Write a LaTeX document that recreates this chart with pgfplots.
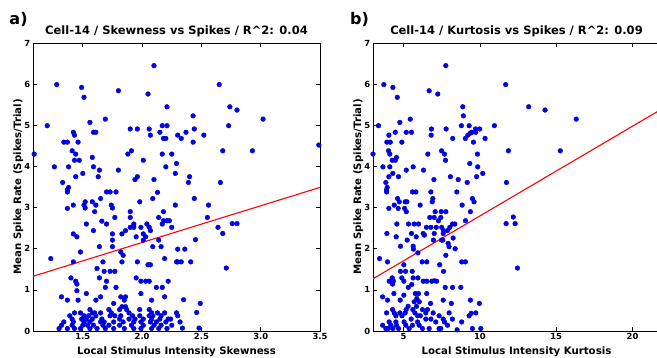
\documentclass[border=0pt]{standalone}
\usepackage{fontspec}
\setmainfont{DejaVu Sans}
\usepackage{pgfplots}
\pgfplotsset{compat=1.18}
\pgfplotsset{
  panel/.style={
    scale only axis, width=287bp, height=288bp,
    anchor=south west,
    ymin=0, ymax=7, ytick={0,1,2,3,4,5,6,7},
    tick align=inside, major tick length=4bp,
    axis line style={black, line width=0.8bp},
    every tick/.style={black, line width=0.7bp},
    /pgf/number format/assume math mode=true,
    ticklabel style={font=\fontsize{8.4bp}{10bp}\selectfont\bfseries},
    xticklabel style={anchor=base, yshift=-8.2bp},
    yticklabel style={anchor=east, inner sep=0pt, xshift=-2.5bp},
    title style={at={(axis description cs:0.5,1)}, anchor=base, yshift=2.4bp, font=\fontsize{11.5bp}{13bp}\selectfont\bfseries},
    xlabel style={at={(axis description cs:0.5,0)}, anchor=base, yshift=-23.5bp, font=\fontsize{10.2bp}{12bp}\selectfont\bfseries},
    ylabel style={at={(axis description cs:0,0.5)}, anchor=base, yshift=12bp, font=\fontsize{10.2bp}{12bp}\selectfont\bfseries},
    ylabel={Mean Spike Rate (Spikes/Trial)},
  },
  dots/.style={only marks, mark=*, mark size=2.4bp, mark options={fill=blue, draw=blue!60!black, line width=0.3bp}},
  fit/.style={red, line width=1.1bp, no marks},
}
\begin{document}
\begin{tikzpicture}
\begin{axis}[panel, at={(33bp,27bp)},
  xmin=1.08, xmax=3.5, xtick={1.5,2.0,2.5,3.0,3.5},
  xticklabel style={/pgf/number format/.cd, fixed, fixed zerofill, precision=1},
  title={Cell-14 / Skewness vs Spikes / R\textasciicircum 2: 0.04},
  xlabel={Local Stimulus Intensity Skewness}]
\addplot[dots] coordinates {
(2.10,6.45) (1.28,5.99) (1.49,5.92) (1.51,5.68) (1.80,5.84) (2.05,5.76) (2.21,5.45) (1.20,4.99)
(1.56,5.07) (1.69,5.15) (1.90,4.91) (1.96,4.91) (2.06,4.91) (2.17,4.99) (2.21,4.99) (2.15,4.83)
(2.07,4.76) (2.18,4.68) (2.20,4.68) (2.30,4.76) (1.42,4.83) (1.43,4.76) (1.59,4.83) (1.61,4.83)
(1.34,4.59) (1.37,4.59) (1.46,4.59) (1.41,4.38) (1.44,4.30) (1.09,4.30) (1.43,4.15) (1.47,4.15)
(1.58,4.22) (1.88,4.30) (1.91,4.38) (2.17,4.30) (2.25,4.30) (2.01,4.15) (2.29,4.07) (1.26,3.99)
(1.38,3.99) (1.59,3.99) (1.64,3.91) (1.80,3.91) (2.20,3.99) (1.44,3.75) (1.50,3.83) (1.63,3.75)
(1.33,3.61) (1.38,3.49) (1.94,3.68) (1.96,3.75) (2.10,3.68) (2.28,3.83)
(2.65,5.99) (2.74,5.45) (2.80,5.37) (2.43,5.23) (3.02,5.15) (2.73,4.99) (2.33,4.68) (2.37,4.83)
(2.44,4.91) (2.52,4.76) (2.43,4.59) (2.68,4.38) (2.93,4.38) (3.49,4.52) (2.40,3.75) (2.39,3.61)
(2.66,3.61)
(1.37,3.43) (1.37,3.38) (1.70,3.38) (1.73,3.38) (1.78,3.38) (2.13,3.37) (1.37,2.98) (1.42,3.06)
(1.51,3.06) (1.52,3.14) (1.52,2.99) (1.58,3.14) (1.61,3.06) (1.60,2.90) (1.65,3.22) (1.74,3.06)
(1.75,2.99) (1.77,2.76) (1.66,2.67) (1.70,2.60) (1.53,2.60) (1.59,2.44) (1.90,2.90) (1.90,2.76)
(1.98,3.14) (2.09,3.22) (2.18,2.90) (2.14,2.76) (2.18,2.68) (2.21,2.68) (2.23,2.68) (2.17,2.60)
(2.25,2.52) (2.28,3.06) (1.86,2.44) (1.90,2.52) (1.93,2.52) (1.93,2.60) (1.99,2.52) (2.04,2.60)
(2.06,2.52) (2.07,2.44) (1.83,2.36) (1.75,2.36) (1.75,2.21) (1.75,2.05) (1.95,2.29) (2.01,2.36)
(2.03,2.29) (2.01,2.21) (2.09,2.05) (2.14,2.21) (2.16,2.05) (1.42,2.36) (1.45,2.29) (1.64,2.05)
(1.48,1.92) (1.23,1.76) (1.42,1.68) (1.82,1.92) (1.84,1.84) (1.67,1.68) (1.83,1.68) (1.96,1.68)
(2.05,1.61) (2.07,1.61) (2.19,1.76) (2.29,1.68) (1.62,1.52) (1.68,1.45) (1.73,1.45) (1.77,1.45)
(1.40,1.29) (1.44,1.21) (1.45,1.14) (1.64,1.29) (1.70,1.21) (1.69,1.06) (1.78,1.06) (1.95,1.29)
(1.99,1.21) (2.03,1.21) (2.06,1.21) (2.12,1.06) (2.17,1.06) (2.22,1.21) (1.45,0.98) (1.53,0.91)
(1.32,0.83) (1.37,0.75) (1.46,0.75) (1.61,0.75) (1.65,0.83) (1.82,0.83) (1.86,0.83) (1.85,0.75)
(1.99,0.91) (1.76,0.67) (2.08,0.75) (2.19,0.83)
(1.43,0.44) (1.48,0.44) (1.56,0.52) (1.58,0.44) (1.60,0.44) (1.65,0.44) (1.72,0.52) (1.74,0.44)
(1.81,0.52) (1.83,0.59) (1.86,0.59) (1.87,0.52) (1.89,0.44) (1.98,0.52) (2.06,0.52) (2.08,0.44)
(2.13,0.44) (2.19,0.44) (2.24,0.29) (2.29,0.44)
(1.39,0.37) (1.51,0.37) (1.55,0.37) (1.61,0.37) (1.73,0.37) (1.77,0.37) (1.82,0.37) (1.92,0.37)
(1.98,0.37) (2.06,0.37) (2.09,0.37) (2.16,0.37)
(1.41,0.29) (1.49,0.29) (1.53,0.29) (1.58,0.29) (1.66,0.29) (1.81,0.29) (1.89,0.29) (1.94,0.29)
(2.01,0.29) (2.08,0.29) (2.15,0.29) (2.22,0.29)
(1.34,0.22) (1.42,0.22) (1.51,0.22) (1.56,0.22) (1.65,0.22) (1.68,0.22) (1.76,0.22) (1.84,0.22)
(1.93,0.22) (1.99,0.22) (2.07,0.22) (2.12,0.22) (2.20,0.22)
(1.32,0.14) (1.41,0.14) (1.50,0.14) (1.54,0.14) (1.59,0.14) (1.67,0.14) (1.72,0.14) (1.81,0.14)
(1.91,0.14) (2.01,0.14) (2.10,0.14) (2.16,0.14) (2.25,0.14)
(1.30,0.06) (1.37,0.06) (1.43,0.06) (1.48,0.06) (1.56,0.06) (1.62,0.06) (1.69,0.06) (1.76,0.06)
(1.85,0.06) (1.93,0.06) (1.99,0.06) (2.08,0.06) (2.14,0.06) (2.21,0.06)
(2.44,3.22) (2.56,3.06) (2.55,2.76) (2.64,2.52) (2.76,2.61) (2.80,2.61) (2.68,2.37) (2.45,2.22)
(2.30,1.99) (2.36,1.99) (2.30,1.68) (2.33,1.68) (2.41,1.68) (2.71,1.53) (2.35,0.76) (2.49,0.67)
(2.30,0.37) (2.46,0.45) (2.32,0.22) (2.34,0.07) (2.48,0.07)
};
\addplot[fit] coordinates {(1.08,1.33) (3.5,3.49)};
\end{axis}
\begin{axis}[panel, at={(373bp,27bp)},
  xmin=3.0, xmax=21.8, xtick={5,10,15,20}, ytick pos=left,
  title={Cell-14 / Kurtosis vs Spikes / R\textasciicircum 2: 0.09},
  xlabel={Local Stimulus Intensity Kurtosis}]
\addplot[dots] coordinates {
(7.77,6.45) (3.71,5.99) (4.30,5.92) (4.59,5.68) (6.68,5.84) (7.24,5.76) (11.69,5.99) (8.88,5.45)
(8.92,5.23) (3.36,4.99) (5.44,5.15) (4.76,5.07) (6.83,4.91) (6.81,4.76) (7.79,4.91) (8.79,4.99)
(9.30,4.99) (10.95,4.99) (9.71,4.91) (9.99,4.91) (4.04,4.76) (4.46,4.83) (5.18,4.83) (5.52,4.83)
(3.91,4.59) (4.13,4.59) (4.89,4.59) (8.22,4.68) (9.05,4.68) (9.21,4.76) (9.38,4.81) (9.47,4.83)
(9.73,4.83) (9.58,4.59) (10.34,4.68) (3.00,4.30) (4.02,4.38) (4.10,4.30) (4.26,4.15) (4.46,4.15)
(4.54,4.22) (6.59,4.30) (7.49,4.38) (7.68,4.30) (7.75,4.15) (9.84,4.30) (11.87,4.38) (3.65,3.99)
(4.10,3.99) (5.18,3.91) (5.63,3.99) (6.31,3.91) (9.34,4.07) (9.86,3.99) (4.30,3.83) (4.67,3.75)
(4.04,3.75) (3.84,3.61) (6.99,3.68) (8.07,3.75) (8.58,3.68) (9.17,3.61) (9.79,3.75) (10.19,3.83)
(11.74,3.61) (3.93,3.49)
(13.20,5.45) (14.27,5.37) (16.31,5.15) (15.27,4.38) (12.19,2.77) (11.72,2.61) (12.31,2.61) (12.46,1.53)
(3.89,3.43) (3.89,3.38) (5.59,3.38) (5.81,3.38) (6.79,3.38) (8.49,3.38) (9.51,3.22) (9.62,3.14)
(4.61,3.22) (4.72,3.14) (4.39,3.06) (4.65,2.98) (5.11,3.14) (5.22,3.14) (4.04,2.98) (5.07,2.98)
(5.18,2.90) (6.09,3.06) (6.92,3.22) (6.88,3.14) (7.07,2.90) (7.47,2.90) (7.77,2.90) (7.01,2.76)
(6.72,2.76) (7.29,2.68) (7.44,2.76) (8.84,3.06) (9.38,2.90) (9.06,2.68) (5.33,2.60) (5.70,2.60)
(5.98,2.60) (4.56,2.60) (6.50,2.52) (6.29,2.37) (6.79,2.52) (7.01,2.37) (7.14,2.52) (7.50,2.52)
(7.62,2.44) (7.60,2.37) (7.88,2.44) (8.03,2.52) (8.21,2.60) (8.36,2.60) (3.91,2.37) (4.52,2.29)
(5.24,2.21) (5.52,2.37) (5.83,2.29) (6.37,2.33) (6.96,2.21) (7.49,2.21) (7.57,2.21) (7.92,2.13)
(7.98,2.05) (8.38,2.00) (8.25,2.26) (4.80,2.06) (5.63,2.06) (5.94,1.90) (5.65,1.99) (7.77,1.84)
(3.43,1.76) (3.95,1.68) (6.22,1.68) (6.52,1.68) (8.81,1.68) (9.05,1.68) (7.37,1.61) (5.02,1.61)
(4.80,1.45) (5.13,1.45) (5.57,1.45) (6.29,1.21) (6.52,1.21) (6.85,1.21) (7.02,1.22) (7.17,1.21)
(7.62,1.45) (4.26,1.29) (4.06,1.21) (4.34,1.21) (4.28,1.14) (4.89,1.29) (5.02,1.21) (5.63,1.29)
(5.94,1.29) (7.73,1.06) (8.21,1.06) (8.75,1.06) (5.31,1.06) (5.54,1.13) (3.63,0.83) (3.95,0.75)
(4.37,0.91) (5.02,0.87) (4.78,0.75) (5.77,0.91) (5.98,0.91) (5.87,0.79) (5.70,0.71) (6.03,0.71)
(6.52,0.91) (6.77,0.67) (7.60,0.75) (8.13,0.67) (9.38,0.75) (9.97,0.67)
(3.89,0.44) (4.28,0.52) (4.39,0.44) (4.50,0.37) (4.76,0.44) (5.11,0.44) (5.17,0.52) (5.61,0.52)
(5.74,0.44) (5.85,0.60) (5.92,0.37) (6.24,0.52) (6.46,0.44) (6.57,0.52) (6.94,0.44) (7.33,0.37)
(7.60,0.29) (7.99,0.44) (8.20,0.29) (8.81,0.22) (9.30,0.37) (9.73,0.44) (7.68,0.22)
(3.63,0.14) (3.84,0.06) (4.06,0.22) (4.17,0.14) (4.50,0.22) (4.54,0.14) (4.67,0.06) (5.04,0.22)
(5.15,0.14) (5.37,0.06) (5.92,0.22) (6.02,0.14) (6.24,0.06) (6.46,0.29) (6.68,0.06) (7.33,0.06)
(7.88,0.14) (9.51,0.06) (10.06,0.06) (5.59,0.14) (6.79,0.29) (7.11,0.22) (7.44,0.06)
(9.43,0.43) (8.51,0.03) (4.00,0.06) (4.30,0.06) (4.90,0.37) (5.50,0.29) (6.10,0.37) (5.30,0.60)
};
\addplot[fit] coordinates {(3.0,1.27) (21.8,5.37)};
\end{axis}
\node[anchor=base west, inner sep=0pt, font=\fontsize{16bp}{18bp}\selectfont\bfseries] at (9.3bp,333bp) {a)};
\node[anchor=base west, inner sep=0pt, font=\fontsize{16bp}{18bp}\selectfont\bfseries] at (350bp,333bp) {b)};
\pgfresetboundingbox
\path (0,0) rectangle (657bp,358bp);
\end{tikzpicture}
\end{document}
